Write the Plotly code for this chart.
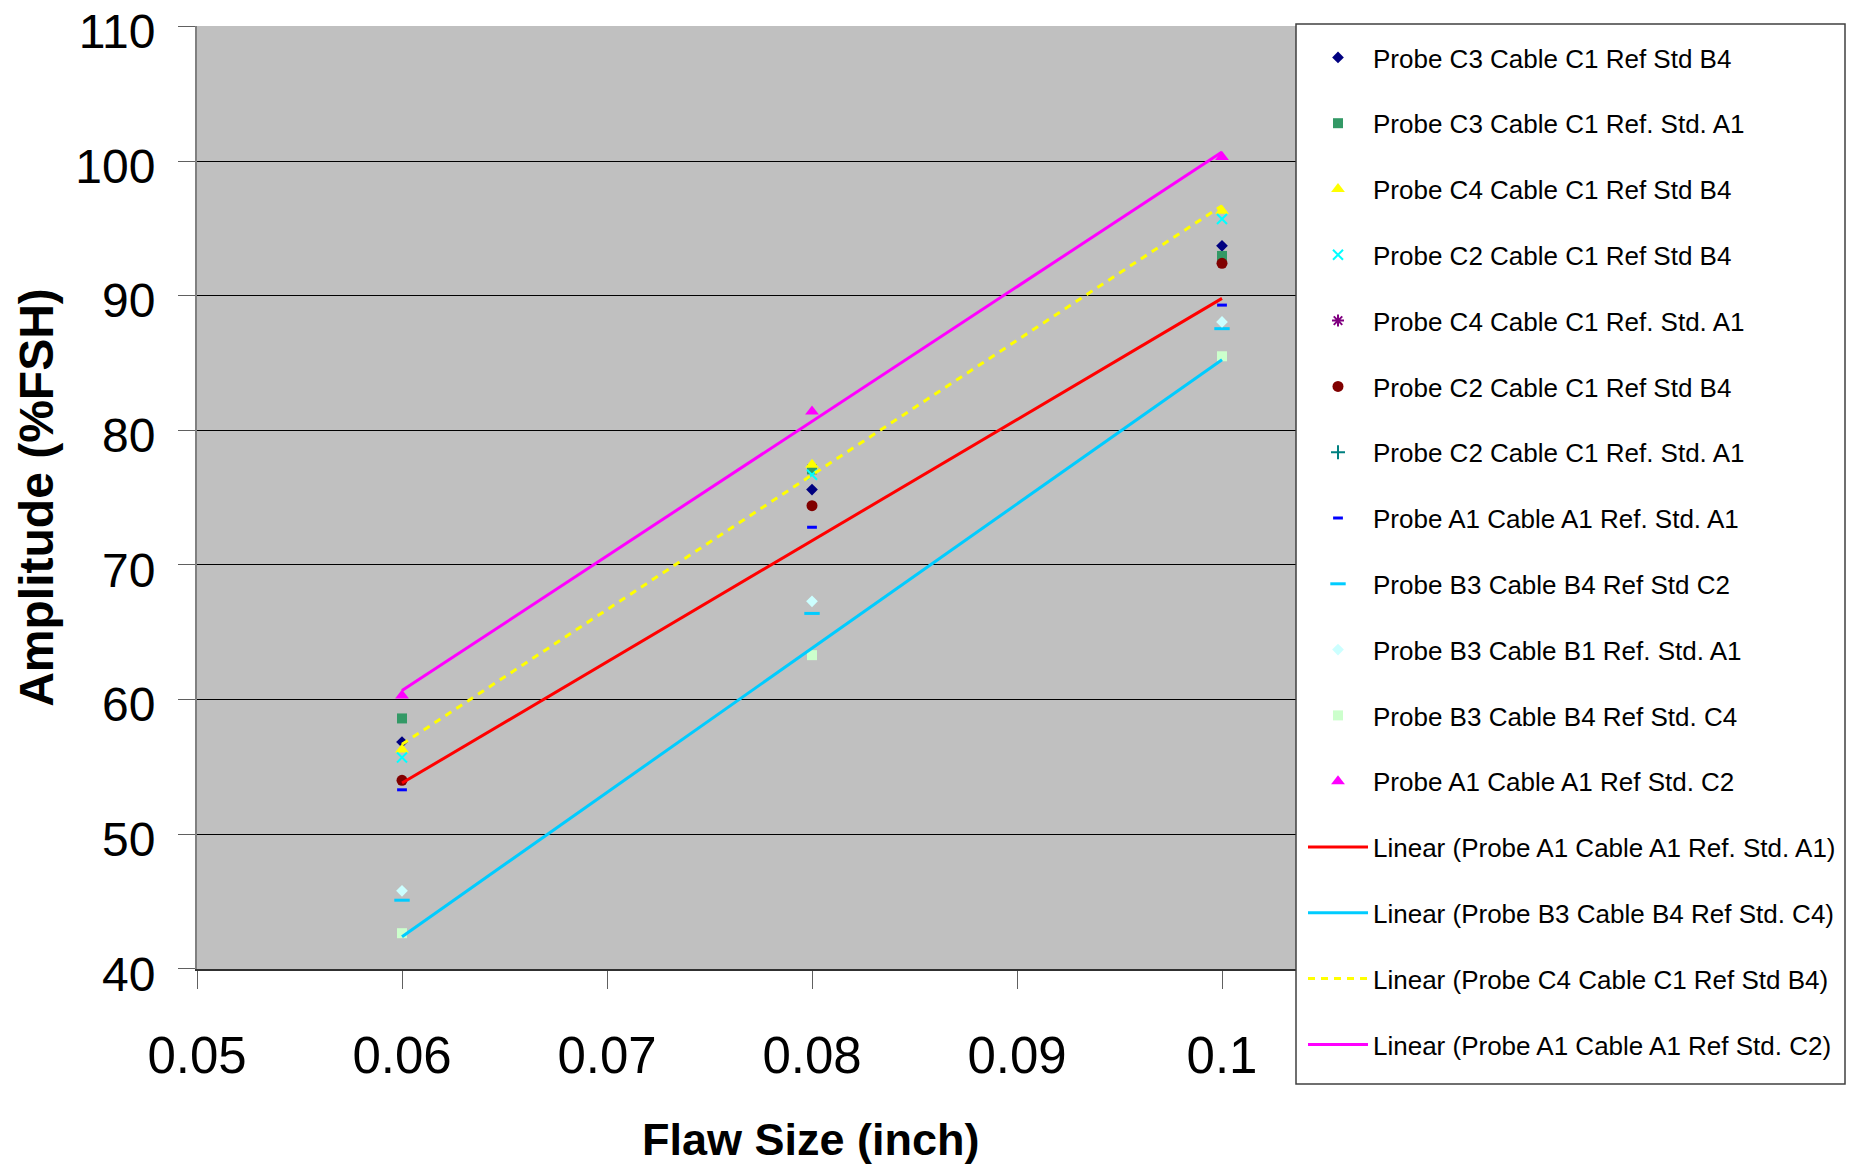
import numpy as np
import plotly.graph_objects as go

# ---------------- data ----------------
flaw_size = [0.06, 0.08, 0.1]

probe_c3_cable_c1_ref_std_b4 = [56.85, 75.6, 93.7]
probe_c3_cable_c1_ref_std_a1 = [58.6, 77.1, 92.95]
probe_c4_cable_c1_ref_std_b4 = [56.3, 77.45, 96.3]
probe_c2_cable_c1_ref_std_b4_x = [55.7, 76.7, 95.7]
probe_c4_cable_c1_ref_std_a1 = [None, None, None]
probe_c2_cable_c1_ref_std_b4 = [54.0, 74.4, 92.4]
probe_c2_cable_c1_ref_std_a1 = [None, None, None]
probe_a1_cable_a1_ref_std_a1 = [53.3, 72.8, 89.3]
probe_b3_cable_b4_ref_std_c2 = [45.1, 66.4, 87.55]
probe_b3_cable_b1_ref_std_a1 = [45.8, 67.3, 88.05]
probe_b3_cable_b4_ref_std_c4 = [42.65, 63.3, 85.5]
probe_a1_cable_a1_ref_std_c2 = [60.3, 81.4, 100.3]

x_tick_vals = [0.05, 0.06, 0.07, 0.08, 0.09, 0.1]
x_tick_text = ["0.05", "0.06", "0.07", "0.08", "0.09", "0.1"]
y_tick_vals = [40, 50, 60, 70, 80, 90, 100, 110]

# ---------------- styles ----------------
FONT = "Liberation Sans, Arial, sans-serif"

marker_series = [
    ("Probe C3 Cable C1 Ref Std B4", probe_c3_cable_c1_ref_std_b4,
     dict(symbol="diamond", size=9, color="#000080")),
    ("Probe C3 Cable C1 Ref. Std. A1", probe_c3_cable_c1_ref_std_a1,
     dict(symbol="square", size=10, color="#339966")),
    ("Probe C4 Cable C1 Ref Std B4", probe_c4_cable_c1_ref_std_b4,
     dict(symbol="triangle-up", size=12, color="#FFFF00")),
    ("Probe C2 Cable C1 Ref Std B4", probe_c2_cable_c1_ref_std_b4_x,
     dict(symbol="x-thin", size=10, color="#00FFFF", line=dict(color="#00FFFF", width=2))),
    ("Probe C4 Cable C1 Ref. Std. A1", probe_c4_cable_c1_ref_std_a1,
     dict(symbol="asterisk", size=10, color="#800080", line=dict(color="#800080", width=2))),
    ("Probe C2 Cable C1 Ref Std B4", probe_c2_cable_c1_ref_std_b4,
     dict(symbol="circle", size=11, color="#800000")),
    ("Probe C2 Cable C1 Ref. Std. A1", probe_c2_cable_c1_ref_std_a1,
     dict(symbol="cross-thin", size=10, color="#008080", line=dict(color="#008080", width=2))),
    ("Probe A1 Cable A1 Ref. Std. A1", probe_a1_cable_a1_ref_std_a1,
     dict(symbol="line-ew", size=7, color="#0000FF", line=dict(color="#0000FF", width=3))),
    ("Probe B3 Cable B4 Ref Std C2", probe_b3_cable_b4_ref_std_c2,
     dict(symbol="line-ew", size=11, color="#00CCFF", line=dict(color="#00CCFF", width=3))),
    ("Probe B3 Cable B1 Ref. Std. A1", probe_b3_cable_b1_ref_std_a1,
     dict(symbol="diamond", size=9, color="#CCFFFF")),
    ("Probe B3 Cable B4 Ref Std. C4", probe_b3_cable_b4_ref_std_c4,
     dict(symbol="square", size=10, color="#CCFFCC")),
    ("Probe A1 Cable A1 Ref Std. C2", probe_a1_cable_a1_ref_std_c2,
     dict(symbol="triangle-up", size=12, color="#FF00FF")),
]

trend_series = [
    ("Linear (Probe A1 Cable A1 Ref. Std. A1)", probe_a1_cable_a1_ref_std_a1,
     dict(color="#FF0000", width=3)),
    ("Linear (Probe B3 Cable B4 Ref Std. C4)", probe_b3_cable_b4_ref_std_c4,
     dict(color="#00CCFF", width=3)),
    ("Linear (Probe C4 Cable C1 Ref Std B4)", probe_c4_cable_c1_ref_std_b4,
     dict(color="#FFFF00", width=3, dash="7px,6px")),
    ("Linear (Probe A1 Cable A1 Ref Std. C2)", probe_a1_cable_a1_ref_std_c2,
     dict(color="#FF00FF", width=3)),
]

fig = go.Figure()

for i, (name, ys, mk) in enumerate(marker_series):
    fig.add_trace(go.Scatter(
        x=flaw_size, y=ys, mode="markers", name=name,
        marker=mk, legendgroup=f"g{i:02d}", showlegend=True,
    ))

# Linear trendlines (least-squares fit of the series, as in the source chart)
x_arr = np.array(flaw_size)
x_ends = np.array([x_arr.min(), x_arr.max()])
for j, (name, ys, ln) in enumerate(trend_series):
    slope, intercept = np.polyfit(x_arr, np.array(ys, dtype=float), 1)
    fig.add_trace(go.Scatter(
        x=x_ends, y=slope * x_ends + intercept, mode="lines", name=name,
        line=ln, legendgroup=f"t{j:02d}", showlegend=True,
    ))

# plot area: 197..1296 px wide, 26..969 px tall
L, R, T, B = 197, 1857 - 1296, 26, 1167 - 969
PW, PH = 1857 - L - R, 1167 - T - B

def px_to_paper_x(px):
    return (px - L) / PW

def px_to_paper_y(py):
    return (1167 - B - py) / PH

fig.update_layout(
    width=1857, height=1167,
    margin=dict(l=L, r=R, t=T, b=B, autoexpand=False),
    paper_bgcolor="white",
    plot_bgcolor="#C0C0C0",
    font=dict(family=FONT, color="black"),
    showlegend=True,
    legend=dict(
        x=px_to_paper_x(1303), y=px_to_paper_y(34),
        xanchor="left", yanchor="top",
        bgcolor="rgba(0,0,0,0)", borderwidth=0,
        font=dict(family=FONT, size=26, color="black"),
        tracegroupgap=29, traceorder="grouped", itemwidth=60,
        maxheight=1160,
    ),
    xaxis=dict(
        range=[0.05, 0.05 + 0.01 * PW / 205.0],
        tickmode="array", tickvals=x_tick_vals, ticktext=x_tick_text,
        ticks="outside", ticklen=18, tickwidth=1, tickcolor="#606060",
        showline=True, linecolor="#303030", linewidth=2,
        showgrid=False, zeroline=False,
        tickfont=dict(family=FONT, size=51, color="black"),
        ticklabelstandoff=23,
        title=dict(text=""),
    ),
    yaxis=dict(
        range=[39.99, 110.03],
        tickmode="array", tickvals=y_tick_vals,
        ticks="outside", ticklen=17, tickwidth=1, tickcolor="#606060",
        showline=True, linecolor="#808080", linewidth=2,
        showgrid=True, gridcolor="black", gridwidth=1,
        zeroline=False,
        tickfont=dict(family=FONT, size=48, color="black"),
        ticklabelstandoff=13, ticklabeloverflow="allow", ticklabelshift=5,
        title=dict(text="Amplitude (%FSH)", standoff=7,
                   font=dict(family=FONT, size=48, color="black", weight="bold")),
    ),
    annotations=[dict(
        text="Flaw Size (inch)", xref="paper", yref="paper",
        x=px_to_paper_x(811), y=px_to_paper_y(1139),
        xanchor="center", yanchor="middle", showarrow=False,
        font=dict(family=FONT, size=45, color="black", weight="bold"),
    )],
    shapes=[dict(
        type="rect", xref="paper", yref="paper",
        x0=px_to_paper_x(1296), x1=px_to_paper_x(1845),
        y0=px_to_paper_y(1084), y1=px_to_paper_y(24),
        line=dict(color="#404040", width=1.5), fillcolor="rgba(0,0,0,0)",
        layer="above",
    )],
)

fig.write_html("out.html")
